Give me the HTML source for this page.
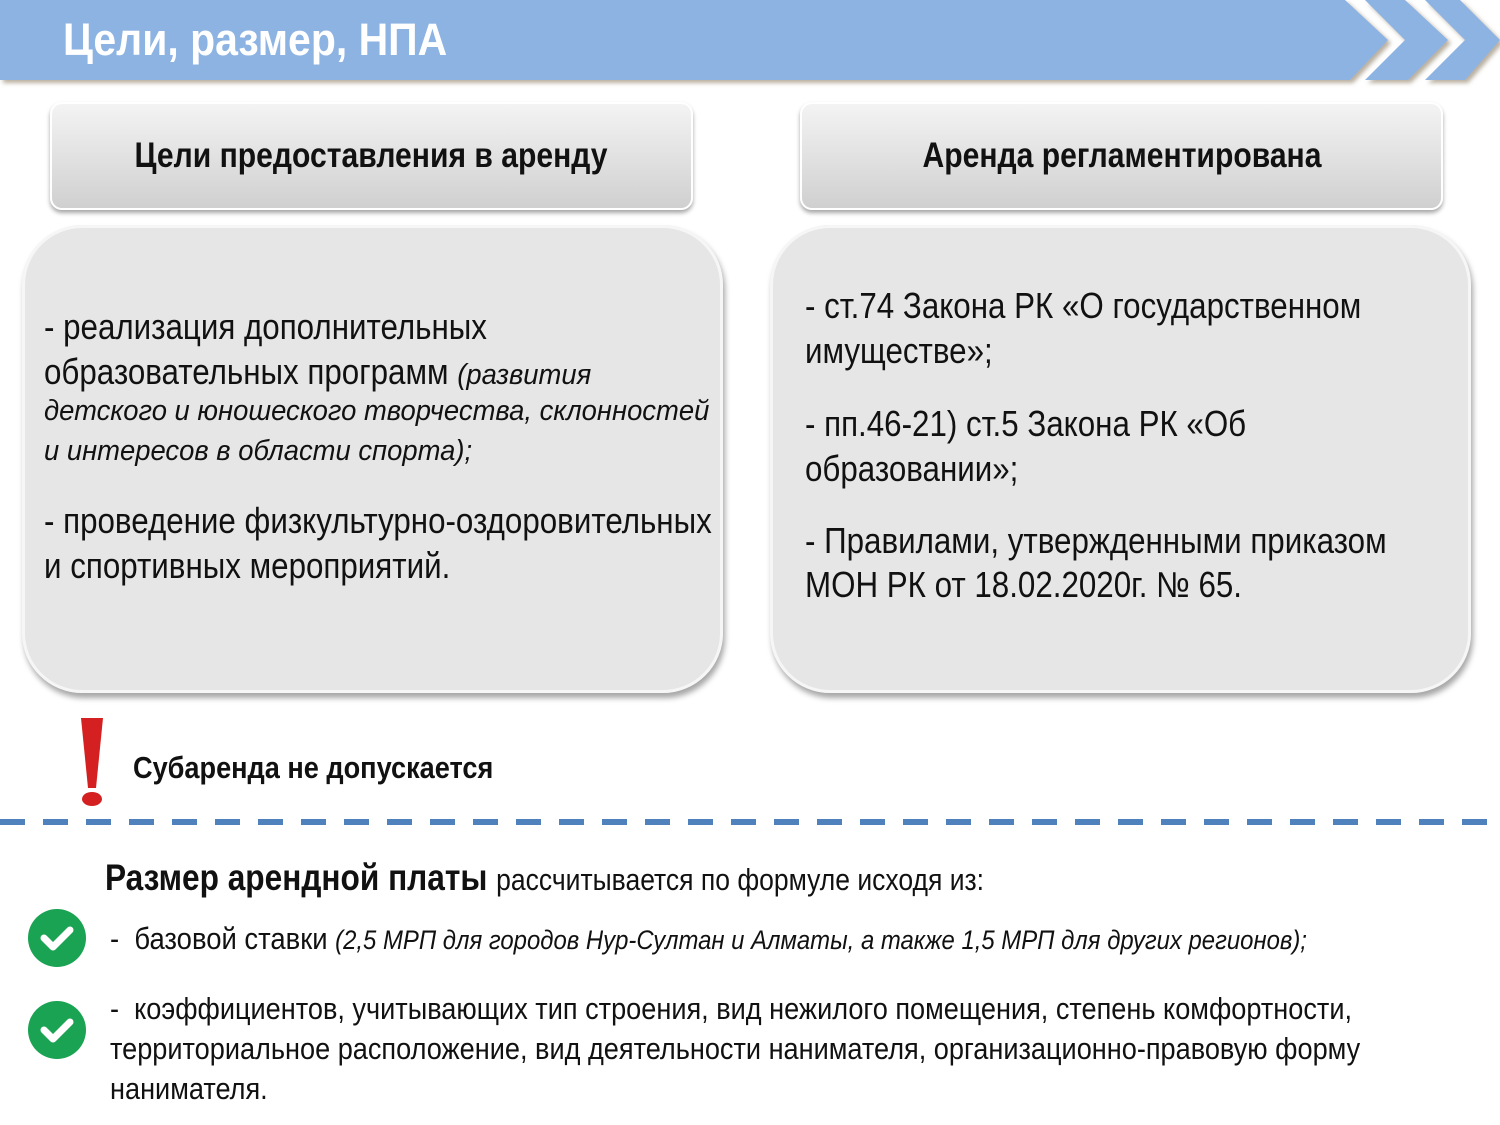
<!DOCTYPE html>
<html><head><meta charset="utf-8"><style>
body{margin:0;width:1500px;height:1125px;background:#fff;position:relative;overflow:hidden;font-family:"Liberation Sans Narrow","Liberation Sans",sans-serif;color:#111}
.a{position:absolute;white-space:nowrap;line-height:1;transform-origin:0 0}
.hb{position:absolute;border-radius:12px;background:linear-gradient(#f4f4f4,#dedede 60%,#cfcfcf);box-shadow:0 3px 4px rgba(0,0,0,.35),inset 0 0 0 2px #fff;text-align:center;font-weight:bold;font-size:35px;line-height:108px}
.hb span{display:inline-block;transform:scaleX(.86)}
.cb{position:absolute;border-radius:60px;background:#e6e6e6;box-shadow:2px 5px 6px rgba(0,0,0,.35),inset 0 0 0 3px #f6f6f6}
.t{font-size:36px;transform:scaleX(.87)}
.i{font-style:italic;font-size:29px}
.ii{transform:scaleX(.945)}
</style></head><body>
<svg class="a" style="left:0;top:0" width="1500" height="90">
<defs><filter id="s"><feDropShadow dx="3" dy="3" stdDeviation="2" flood-color="#8a7a60" flood-opacity=".6"/></filter></defs>
<g fill="#8db3e2" filter="url(#s)">
<polygon points="0,0 1345,0 1388,40 1350,80 0,80"/>
<polygon points="1365,0 1405,0 1448,40 1408,80 1365,80 1405,40"/>
<polygon points="1425,0 1460,0 1500,40 1465,80 1425,80 1465,40"/>
</g></svg>
<div class="a" style="left:63px;top:17px;font-size:45px;font-weight:bold;color:#fff;transform:scaleX(.91)">Цели, размер, НПА</div>
<div class="hb" style="left:50px;top:102px;width:643px;height:108px"><span>Цели предоставления в аренду</span></div>
<div class="hb" style="left:800px;top:102px;width:643px;height:108px"><span>Аренда регламентирована</span></div>
<div class="cb" style="left:22px;top:225px;width:701px;height:468px"></div>
<div class="cb" style="left:770px;top:225px;width:701px;height:468px"></div>
<div class="a t" style="left:44px;top:309px">- реализация дополнительных</div>
<div class="a t" style="left:44px;top:354px">образовательных программ <span class="i" style="display:inline-block;transform:scaleX(1.086);transform-origin:0 0">(развития</span></div>
<div class="a i ii" style="left:44px;top:397px">детского и юношеского творчества, склонностей</div>
<div class="a i ii" style="left:44px;top:437px">и интересов в области спорта);</div>
<div class="a t" style="left:44px;top:503px">- проведение физкультурно-оздоровительных</div>
<div class="a t" style="left:44px;top:548px">и спортивных мероприятий.</div>
<div class="a t" style="left:805px;top:288px">- ст.74 Закона РК «О государственном</div>
<div class="a t" style="left:805px;top:333px">имуществе»;</div>
<div class="a t" style="left:805px;top:406px">- пп.46-21) ст.5 Закона РК «Об</div>
<div class="a t" style="left:805px;top:451px">образовании»;</div>
<div class="a t" style="left:805px;top:523px">- Правилами, утвержденными приказом</div>
<div class="a t" style="left:805px;top:567px">МОН РК от 18.02.2020г. № 65.</div>
<svg class="a" style="left:78px;top:716px" width="30" height="92"><polygon points="3,2 25,2 18,72 10,72" fill="#d42020"/><ellipse cx="14" cy="83" rx="10" ry="7" fill="#d42020"/></svg>
<div class="a" style="left:133px;top:752px;font-size:31px;font-weight:bold;transform:scaleX(.875)">Субаренда не допускается</div>
<div class="a" style="left:0;top:819px;width:1500px;height:6px;background:repeating-linear-gradient(90deg,#4f81bd 0 25px,transparent 25px 43px)"></div>
<div class="a" style="left:105px;top:859px;font-size:37px;font-weight:bold;transform:scaleX(.855)">Размер арендной платы <span style="font-weight:normal;font-size:31px">рассчитывается по формуле исходя из:</span></div>
<svg class="a" style="left:27px;top:909px" width="60" height="150">
<circle cx="30" cy="29" r="29" fill="#1aa352"/><polyline points="17,29 26,38 43,21" fill="none" stroke="#fff" stroke-width="7" stroke-linecap="round" stroke-linejoin="round"/>
<circle cx="30" cy="121" r="29" fill="#1aa352"/><polyline points="17,121 26,130 43,113" fill="none" stroke="#fff" stroke-width="7" stroke-linecap="round" stroke-linejoin="round"/>
</svg>
<div class="a" style="left:110px;top:923px;font-size:31px;transform:scaleX(.885)">-&nbsp; базовой ставки <i style="font-size:27px">(2,5 МРП для городов Нур-Султан и Алматы, а также 1,5 МРП для других регионов);</i></div>
<div class="a" style="left:110px;top:993px;font-size:31px;transform:scaleX(.875)">-&nbsp; коэффициентов, учитывающих тип строения, вид нежилого помещения, степень комфортности,</div>
<div class="a" style="left:110px;top:1033px;font-size:31px;transform:scaleX(.875)">территориальное расположение, вид деятельности нанимателя, организационно-правовую форму</div>
<div class="a" style="left:110px;top:1073px;font-size:31px;transform:scaleX(.875)">нанимателя.</div>
</body></html>
